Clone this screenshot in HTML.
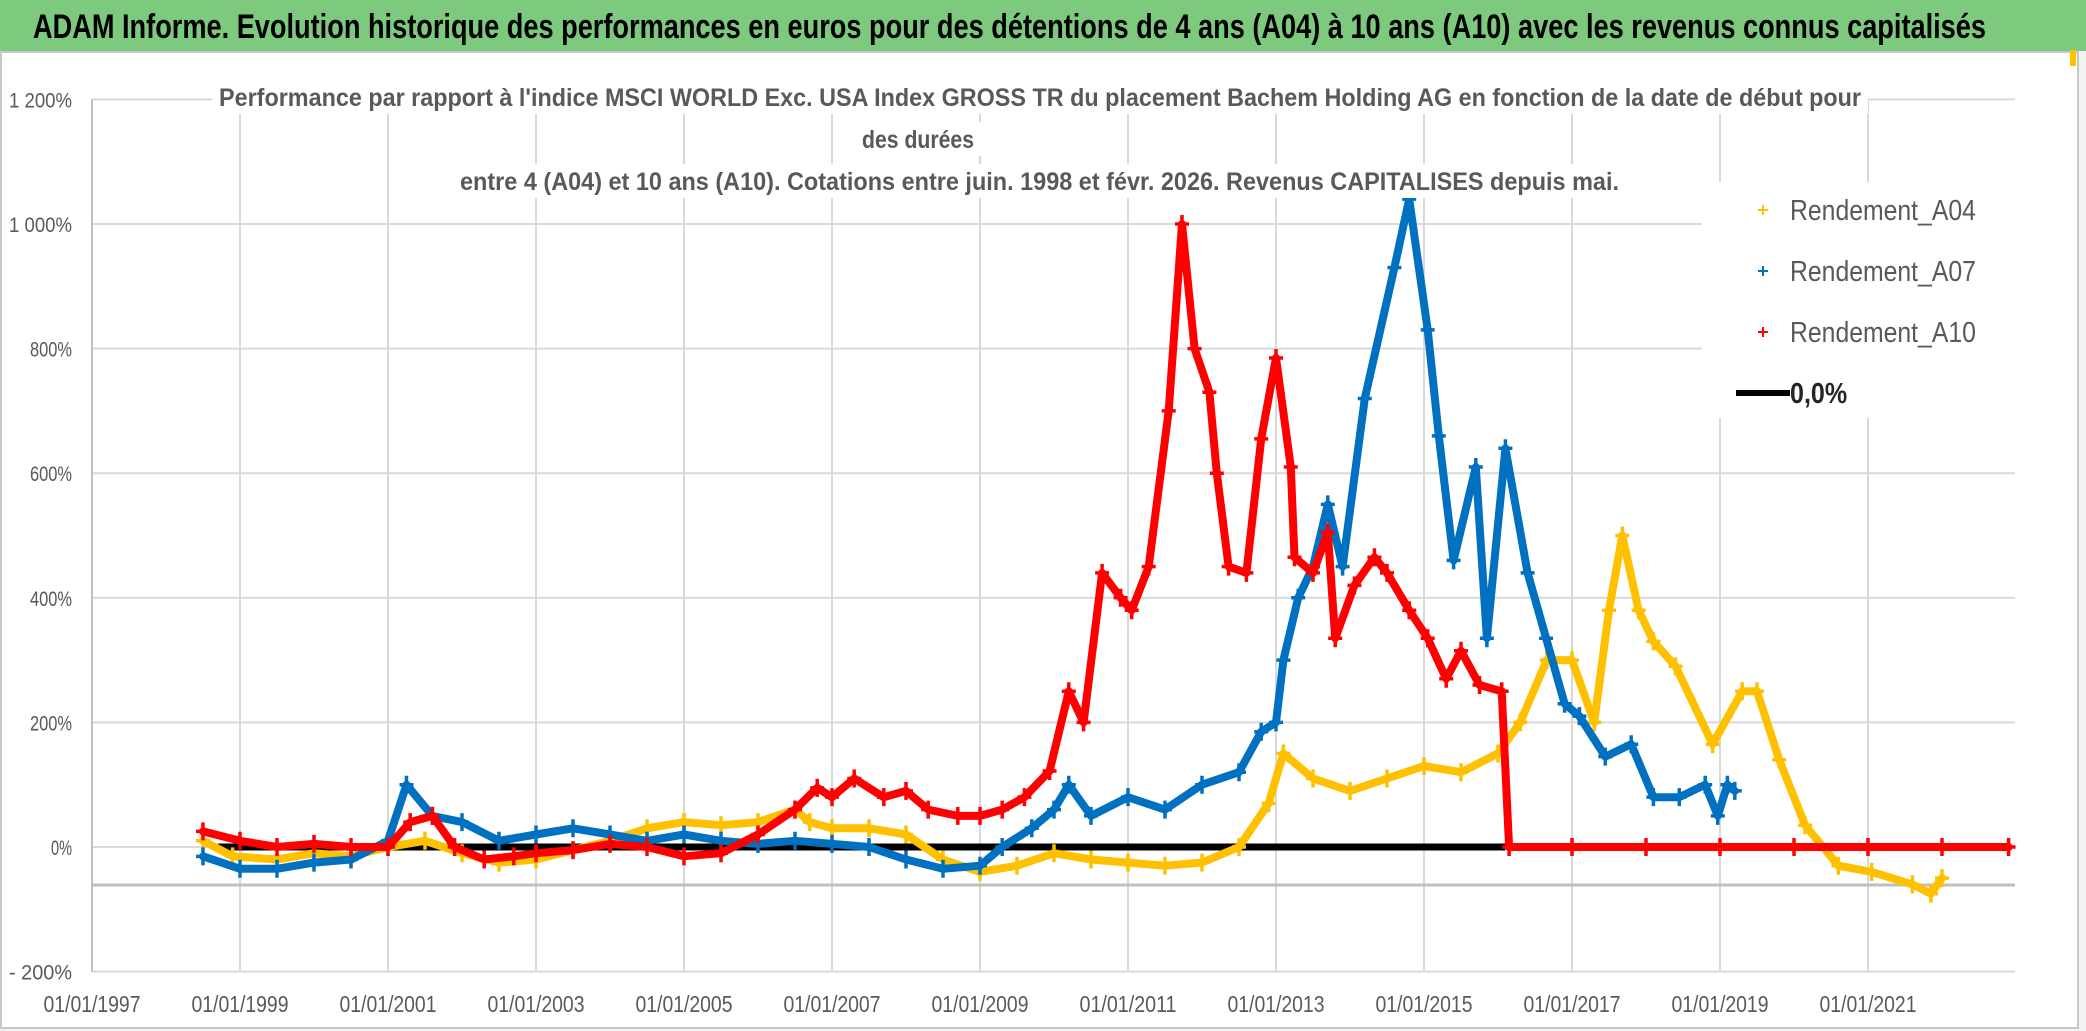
<!DOCTYPE html>
<html><head><meta charset="utf-8"><style>
html,body{margin:0;padding:0;background:#fff;}
svg{display:block;font-family:"Liberation Sans",sans-serif;}
</style></head><body>
<svg id="chart" width="2086" height="1031" viewBox="0 0 2086 1031" xmlns="http://www.w3.org/2000/svg">
<rect x="0" y="0" width="2086" height="1031" fill="#f2f2f2"/>
<rect x="0" y="0" width="2086" height="51" fill="#7dc97e"/>
<text x="33" y="38" font-size="34" font-weight="bold" fill="#000" textLength="1953" lengthAdjust="spacingAndGlyphs">ADAM Informe. Evolution historique des performances en euros pour des détentions de 4 ans (A04) à 10 ans (A10) avec les revenus connus capitalisés</text>
<rect x="1" y="52" width="2077" height="976" fill="#fff" stroke="#c8c8c8" stroke-width="2"/>
<rect x="2070" y="50" width="6" height="16" fill="#ffc000"/>
<g id="grid"></g>
<g id="yticks"></g>
<g id="xticks"></g>
<g id="series"></g>
<g>
<rect x="212" y="80" width="1656" height="34" fill="#fff"/>
<rect x="860" y="122" width="130" height="34" fill="#fff"/>
<rect x="452" y="164" width="1175" height="34" fill="#fff"/>
<text x="219" y="106" font-size="25" font-weight="bold" fill="#595959" textLength="1642" lengthAdjust="spacingAndGlyphs">Performance par rapport à l'indice MSCI WORLD Exc. USA Index GROSS TR  du placement Bachem Holding AG en fonction de la date de début pour</text>
<text x="918" y="148" font-size="25" font-weight="bold" fill="#595959" text-anchor="middle" textLength="112" lengthAdjust="spacingAndGlyphs">des durées</text>
<text x="460" y="190" font-size="25" font-weight="bold" fill="#595959" textLength="1159" lengthAdjust="spacingAndGlyphs">entre 4 (A04) et 10 ans (A10). Cotations entre juin. 1998 et févr. 2026. Revenus CAPITALISES depuis mai.</text>
</g>
<g id="legend">
<rect x="1702" y="182" width="314" height="236" fill="#fff"/>
</g>
</svg>
<script>
// ---- data (years as decimal, values in %) ----
const a04Dates = [1998.5,1998.9,1999.5,2000.0,2000.5,2001.0,2001.5,2002.0,2002.5,2003.0,2003.5,2004.0,2004.5,2005.0,2005.5,2006.0,2006.5,2006.7,2007.0,2007.5,2008.0,2008.5,2009.0,2009.5,2010.0,2010.5,2011.0,2011.5,2012.0,2012.5,2012.9,2013.1,2013.5,2014.0,2014.5,2015.0,2015.5,2016.0,2016.3,2016.66,2017.0,2017.3,2017.5,2017.68,2017.9,2018.1,2018.4,2018.9,2019.3,2019.5,2019.8,2020.15,2020.6,2021.05,2021.6,2021.85,2022.0];
const a04Values = [10,-15,-20,-10,-15,0,10,-10,-25,-20,-5,10,30,40,35,40,60,40,30,30,20,-20,-40,-30,-10,-20,-25,-30,-25,0,70,150,110,90,110,130,120,150,200,300,300,200,380,500,380,330,290,165,250,250,140,35,-30,-40,-60,-75,-50];
const a07Dates = [1998.5,1999.0,1999.5,2000.0,2000.5,2001.0,2001.25,2001.6,2002.0,2002.5,2003.0,2003.5,2004.0,2004.5,2005.0,2005.5,2006.0,2006.5,2007.0,2007.5,2008.0,2008.5,2009.0,2009.3,2009.7,2010.0,2010.2,2010.5,2011.0,2011.5,2012.0,2012.5,2012.8,2013.0,2013.1,2013.3,2013.5,2013.7,2013.9,2014.2,2014.6,2014.8,2015.05,2015.2,2015.4,2015.7,2015.85,2016.1,2016.4,2016.65,2016.9,2017.1,2017.45,2017.8,2018.1,2018.45,2018.8,2018.97,2019.1,2019.2];
const a07Values = [-15,-35,-35,-25,-20,10,100,50,40,10,20,30,20,10,20,10,5,10,5,0,-20,-35,-30,0,30,60,100,50,80,60,100,120,185,200,300,400,450,550,450,720,930,1040,830,660,460,610,335,640,440,335,230,210,145,165,80,80,100,50,100,90];
const a10Dates = [1998.5,1999.0,1999.5,2000.0,2000.5,2001.0,2001.3,2001.6,2001.9,2002.3,2002.7,2003.0,2003.5,2004.0,2004.5,2005.0,2005.5,2006.0,2006.5,2006.8,2007.0,2007.3,2007.7,2008.0,2008.3,2008.7,2009.0,2009.3,2009.6,2009.94,2010.2,2010.4,2010.65,2010.9,2011.05,2011.28,2011.55,2011.73,2011.9,2012.1,2012.2,2012.36,2012.6,2012.8,2013.0,2013.2,2013.25,2013.5,2013.7,2013.8,2014.06,2014.33,2014.5,2014.8,2015.05,2015.3,2015.5,2015.75,2016.05,2016.15,2017.0,2018.0,2019.0,2020.0,2021.0,2022.0,2022.9];
const a10Values = [25,10,0,5,0,0,40,50,0,-20,-15,-10,-5,5,0,-15,-10,20,60,95,80,110,80,90,60,50,50,60,80,122,250,200,440,400,380,450,700,1000,800,730,600,450,440,655,785,610,465,440,505,335,420,465,440,380,335,270,315,260,250,0,0,0,0,0,0,0,0];
const zeroDates = [1998.7,2016.1];
const zeroValues = [0,0];
const yTickValues = [1200,1000,800,600,400,200,0,-200];
const yTickLabels = ["1 200%","1 000%","800%","600%","400%","200%","0%","- 200%"];
const xTickYears = [1997,1999,2001,2003,2005,2007,2009,2011,2013,2015,2017,2019,2021];
const xTickLabels = ["01/01/1997","01/01/1999","01/01/2001","01/01/2003","01/01/2005","01/01/2007","01/01/2009","01/01/2011","01/01/2013","01/01/2015","01/01/2017","01/01/2019","01/01/2021"];
const seriesNames = ["Rendement_A04","Rendement_A07","Rendement_A10","0,0%"];

// ---- axes ----
const NS = "http://www.w3.org/2000/svg";
const X0 = 92, XPY = 74.0, Y0 = 847, YPP = 0.623;
function xs(yr){ return X0 + (yr - 1997) * XPY; }
function ys(v){ return Y0 - v * YPP; }
const XR = 2015;
function mk(tag, attrs, parent){ const e = document.createElementNS(NS, tag); for (const k in attrs) e.setAttribute(k, attrs[k]); parent.appendChild(e); return e; }

const grid = document.getElementById('grid');
yTickValues.forEach(v => {
  const l = mk('line', {x1: X0, x2: XR, y1: ys(v), y2: ys(v), stroke: '#d9d9d9', 'stroke-width': 2}, grid);
  
  
});
xTickYears.forEach(yr => {
  if (yr === 1997) return;
  const l = mk('line', {x1: xs(yr), x2: xs(yr), y1: ys(1200), y2: ys(-200), stroke: '#d9d9d9', 'stroke-width': 2}, grid);
  
  
});
const ax = mk('line', {x1: X0, x2: X0, y1: ys(1200), y2: ys(-200), stroke: '#bfbfbf', 'stroke-width': 2}, grid);


const xa = mk('line', {x1: X0, x2: XR, y1: ys(-61), y2: ys(-61), stroke: '#bfbfbf', 'stroke-width': 3}, grid);



const yt = document.getElementById('yticks');
yTickValues.forEach((v, i) => {
  const t = mk('text', {x: 72, y: ys(v) + 8, 'font-size': 21, fill: '#595959', 'text-anchor': 'end', textLength: yTickLabels[i].length * 10.5, lengthAdjust: 'spacingAndGlyphs'}, yt);
  t.textContent = yTickLabels[i];
  
  
});
const xt = document.getElementById('xticks');
xTickYears.forEach((yr, i) => {
  const t = mk('text', {x: xs(yr), y: 1012, 'font-size': 23, fill: '#595959', 'text-anchor': 'middle', textLength: 97, lengthAdjust: 'spacingAndGlyphs'}, xt);
  t.textContent = xTickLabels[i];
  
  
});

// ---- series ----
const sg = document.getElementById('series');
function drawZero(dates, vals, color, name){
  const l = mk('line', {x1: xs(dates[0]), x2: xs(dates[1]), y1: ys(vals[0]), y2: ys(vals[1]), stroke: color, 'stroke-width': 7}, sg);
  
  
}
function drawSeries(dates, vals, color, name){
  const g = mk('g', {}, sg);
  
  
  const pts = dates.map((d, i) => xs(d).toFixed(1) + ',' + ys(vals[i]).toFixed(1)).join(' ');
  mk('polyline', {points: pts, fill: 'none', stroke: color, 'stroke-width': 8, 'stroke-linejoin': 'round', 'stroke-linecap': 'round'}, g);
  dates.forEach((d, i) => {
    const x = xs(d), y = ys(vals[i]);
    const p = mk('path', {d: `M${x-7},${y}H${x+7}M${x},${y-9}V${y+9}`, stroke: color, 'stroke-width': 3.5}, g);
    
    
  });
}
drawZero(zeroDates, zeroValues, '#000', 'zero-line-series');
drawSeries(a04Dates, a04Values, '#ffc000', 'series-a04');
drawSeries(a07Dates, a07Values, '#0070c0', 'series-a07');
drawSeries(a10Dates, a10Values, '#ff0000', 'series-a10');

// ---- legend ----
const lg = document.getElementById('legend');
const legColors = ['#ffc000', '#0070c0', '#ff0000', '#000'];
seriesNames.forEach((n, i) => {
  const by = 220 + i * 61;
  const e = mk('g', {}, lg);
  
  
  if (i < 3) {
    mk('path', {d: `M1758,${by-10}H1768M1763,${by-15}V${by-5}`, stroke: legColors[i], 'stroke-width': 2}, e);
  } else {
    mk('line', {x1: 1736, x2: 1790, y1: by - 10, y2: by - 10, stroke: '#000', 'stroke-width': 6}, e);
  }
  const t = mk('text', {x: 1790, y: by, 'font-size': 29, fill: i < 3 ? '#595959' : '#262626', 'font-weight': i < 3 ? 'normal' : 'bold', textLength: n.length * 14.3, lengthAdjust: 'spacingAndGlyphs'}, e);
  t.textContent = n;
});
</script>
</body></html>
